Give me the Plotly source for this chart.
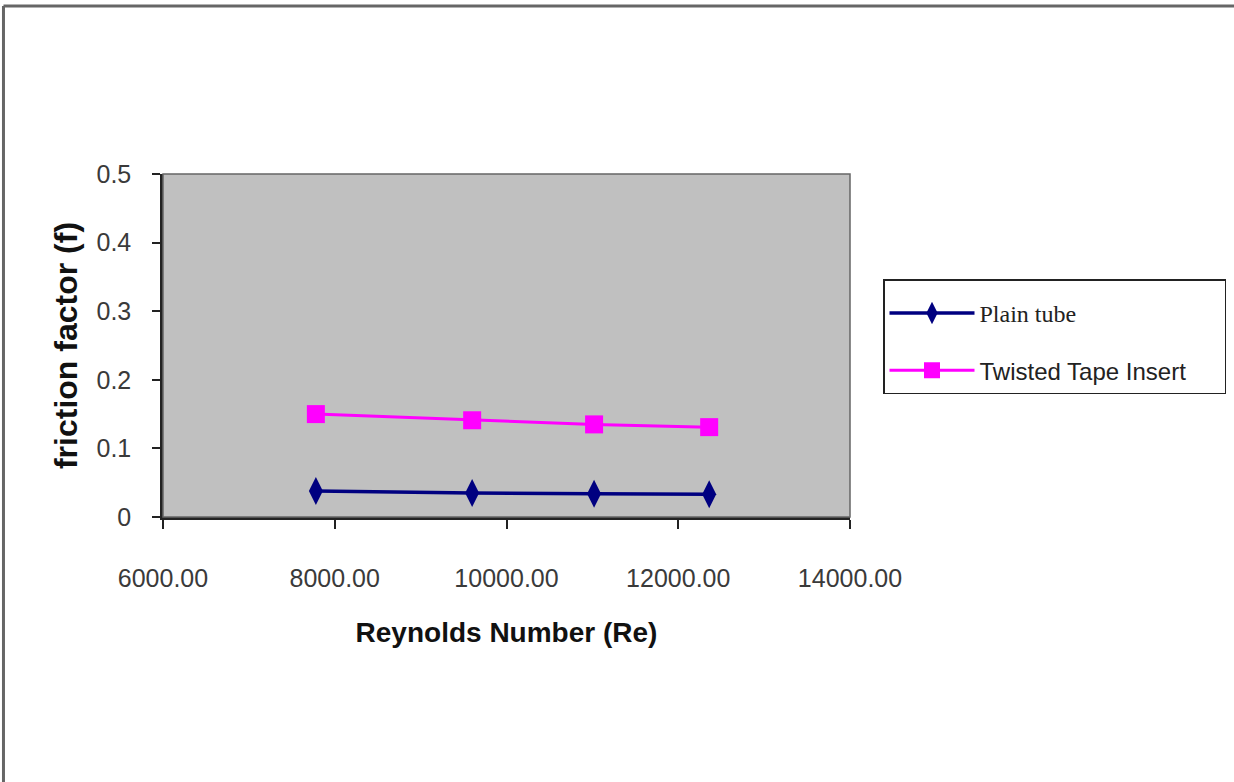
import plotly.graph_objects as go

reynolds = [7780, 9600, 11020, 12360]
plain_tube = [0.038, 0.035, 0.034, 0.033]
twisted_tape = [0.150, 0.141, 0.135, 0.131]

x_ticks = [6000, 8000, 10000, 12000, 14000]
x_tick_labels = ["6000.00", "8000.00", "10000.00", "12000.00", "14000.00"]
y_ticks = [0, 0.1, 0.2, 0.3, 0.4, 0.5]
y_tick_labels = ["0", "0.1", "0.2", "0.3", "0.4", "0.5"]

SANS = "Liberation Sans, Arial, sans-serif"

fig = go.Figure()
fig.add_trace(go.Scatter(
    x=reynolds, y=plain_tube, mode="lines+markers",
    name='<span style="font-family:Liberation Serif, Times New Roman, serif; font-size:24px">Plain tube</span>',
    legendgroup="a",
    line=dict(color="#000080", width=3.5),
    marker=dict(symbol="diamond-tall", size=20, color="#000080"),
))
fig.add_trace(go.Scatter(
    x=reynolds, y=twisted_tape, mode="lines+markers",
    name="Twisted Tape Insert&nbsp;&nbsp;&nbsp;&nbsp;&nbsp;",
    legendgroup="b",
    line=dict(color="#FF00FF", width=3),
    marker=dict(symbol="square", size=18, color="#FF00FF"),
))

fig.update_layout(
    width=1234, height=782,
    margin=dict(l=163, r=384, t=174, b=265, autoexpand=False),
    paper_bgcolor="white",
    plot_bgcolor="#C0C0C0",
    font=dict(family=SANS, size=25, color="#3a3a3a"),
    showlegend=True,
    legend=dict(
        xref="container", yref="container",
        x=883 / 1234, y=1 - 279 / 782, xanchor="left", yanchor="top",
        bgcolor="white", bordercolor="#222222", borderwidth=1.5,
        font=dict(family=SANS, size=24, color="#222222"),
        traceorder="grouped", tracegroupgap=23,
        itemwidth=85,
        title=dict(text="&nbsp;", font=dict(size=8)),
    ),
    xaxis=dict(
        range=[6000, 14000], tickvals=x_ticks, ticktext=x_tick_labels,
        showgrid=False, zeroline=False, showline=True, linecolor="#222222", linewidth=2.5,
        ticks="outside", ticklen=9, tickwidth=2, tickcolor="#222222",
        ticklabelstandoff=28, automargin=False,
        title=dict(text="<b>Reynolds Number (Re)</b>",
                   font=dict(family=SANS, size=28, color="#111111"), standoff=32),
    ),
    yaxis=dict(
        range=[0, 0.5], tickvals=y_ticks, ticktext=y_tick_labels,
        showgrid=False, zeroline=False, showline=True, linecolor="#222222", linewidth=2.5,
        ticks="outside", ticklen=8, tickwidth=2, tickcolor="#222222",
        ticklabelstandoff=16, automargin=False,
        title=dict(text="<b>friction factor (f)</b>",
                   font=dict(family=SANS, size=32, color="#111111"), standoff=10),
    ),
    shapes=[
        dict(type="rect", xref="paper", yref="paper", x0=0, x1=1, y0=0, y1=1,
             line=dict(color="#666666", width=1.5), fillcolor="rgba(0,0,0,0)", layer="above"),
        dict(type="line", xref="paper", yref="paper", x0=-0.2322, x1=-0.2322, y0=-0.8, y1=1.4898,
             line=dict(color="#666666", width=3)),
        dict(type="line", xref="paper", yref="paper", x0=-0.2322, x1=1.6, y0=1.4898, y1=1.4898,
             line=dict(color="#666666", width=3)),
    ],
)

fig.write_html("out.html", config={"displayModeBar": False},
               post_script="document.body.style.margin='0';")
